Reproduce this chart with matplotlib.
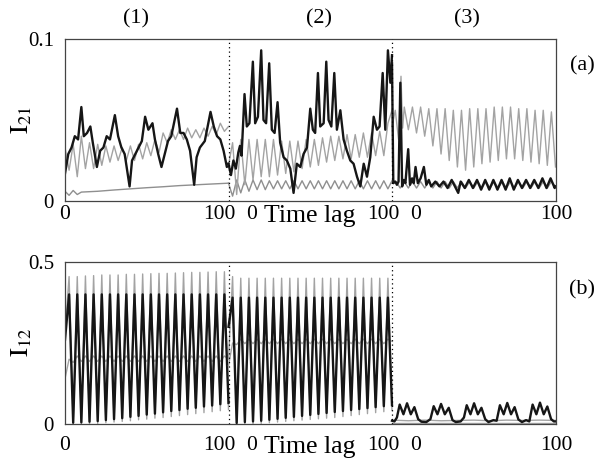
import numpy as np
import matplotlib
matplotlib.use("Agg")
import matplotlib.pyplot as plt
from matplotlib.transforms import blended_transform_factory

plt.rcParams['font.family'] = ['Liberation Serif', 'DejaVu Serif']
plt.rcParams['mathtext.fontset'] = 'stix'

# common lag grid (step 2.5) used by the periodic series
lag = np.arange(0, 100.01, 2.5)

# ---------- panel (a): I21 ----------
# segment (1)
a1_black_x = [0, 2, 4, 6, 8, 10, 11.5, 13.5, 15.5, 17, 19.5, 21.5, 23.5, 25.5, 27.5, 30.5, 32.5,
              34.5, 36.5, 39.5, 41, 43, 45, 47, 49, 51, 53.5, 55, 57, 59, 61, 63, 65, 68.5, 70.5,
              72.5, 74.5, 76.5, 79, 80.5, 82.5, 85.5, 89, 91, 93, 95, 97, 99, 100]
a1_black_y = [0.017, 0.029, 0.033, 0.040, 0.038, 0.058, 0.040, 0.042, 0.046, 0.036, 0.021, 0.031,
              0.033, 0.040, 0.038, 0.053, 0.040, 0.033, 0.029, 0.009, 0.025, 0.029, 0.033, 0.037,
              0.052, 0.044, 0.048, 0.038, 0.029, 0.021, 0.029, 0.037, 0.040, 0.057, 0.042, 0.042,
              0.038, 0.031, 0.010, 0.027, 0.033, 0.037, 0.055, 0.046, 0.040, 0.038, 0.031, 0.021,
              0.023]
a1_gray_y = [0.033, 0.019, 0.035, 0.015, 0.040, 0.020, 0.036, 0.020, 0.035, 0.022, 0.034, 0.024,
             0.034, 0.025, 0.033, 0.025, 0.034, 0.025, 0.035, 0.026, 0.036, 0.028, 0.038, 0.030,
             0.042, 0.036, 0.044, 0.038, 0.044, 0.038, 0.045, 0.039, 0.044, 0.039, 0.045, 0.040,
             0.046, 0.041, 0.048, 0.043, 0.046]
a1_low_x = [0, 2.5, 5, 7.5, 10, 20, 30, 40, 50, 60, 70, 80, 90, 100]
a1_low_y = [0.006, 0.0035, 0.0065, 0.004, 0.0055, 0.006, 0.0068, 0.0075, 0.0082, 0.0088, 0.0095,
            0.010, 0.0105, 0.011]

# segment (2)
a2_black_x = [0, 1.5, 3, 4.5, 6, 7, 8, 9.8, 11.2, 12.8, 14.9, 16.3, 18, 20, 21.4, 23, 24.9, 26.5,
              28.2, 30, 31.6, 33.7, 35.7, 37.8, 39.8, 41.8, 43.9, 45.9, 48, 50, 51.6, 53, 54.7,
              56.1, 58.2, 59.8, 61.2, 62.9, 64.7, 66.3, 68.4, 70.4, 72.4, 74.5, 76.5, 78.6, 80.6,
              82.7, 84.7, 86.7, 88.8, 90.8, 92.4, 94.3, 95.9, 97.5, 99, 100]
a2_black_y = [0.023, 0.016, 0.025, 0.020, 0.030, 0.034, 0.028, 0.066, 0.046, 0.048, 0.086, 0.048,
              0.052, 0.093, 0.050, 0.048, 0.085, 0.044, 0.042, 0.061, 0.036, 0.027, 0.025, 0.020,
              0.005, 0.023, 0.021, 0.029, 0.033, 0.057, 0.044, 0.042, 0.079, 0.046, 0.048, 0.086,
              0.050, 0.046, 0.079, 0.044, 0.056, 0.038, 0.031, 0.025, 0.023, 0.015, 0.009, 0.023,
              0.015, 0.027, 0.052, 0.044, 0.046, 0.079, 0.044, 0.093, 0.073, 0.090]
a2_gray_y = [0.022, 0.036, 0.004, 0.038, 0.010, 0.038, 0.013, 0.038, 0.015, 0.038, 0.015, 0.038,
             0.016, 0.037, 0.017, 0.037, 0.018, 0.037, 0.020, 0.038, 0.021, 0.038, 0.022, 0.039,
             0.024, 0.040, 0.025, 0.040, 0.026, 0.041, 0.026, 0.041, 0.027, 0.042, 0.027, 0.042,
             0.028, 0.043, 0.028, 0.048, 0.056]
a2_low_y = [0.011, 0.003, 0.013, 0.005, 0.013, 0.006, 0.013, 0.007, 0.013, 0.007, 0.0125, 0.0075,
            0.0125, 0.0075, 0.0125, 0.0075, 0.0125, 0.0075, 0.0125, 0.0075, 0.0125, 0.0075,
            0.0125, 0.0075, 0.0125, 0.0075, 0.0125, 0.0075, 0.0125, 0.0075, 0.0125, 0.0075,
            0.0125, 0.0075, 0.0125, 0.0075, 0.0125, 0.0075, 0.0125, 0.0075, 0.0125]

# segment (3)
a3_black_x = [0, 0.8, 2, 3, 4, 5.1, 6.2, 7.2, 8.2, 9.9, 11, 12.3, 13.3, 14.4, 15.8, 17.5, 19.5, 21,
              22.5, 24, 26.5, 29, 31.5, 34, 36.5, 39, 40.5, 42, 44.5, 47, 49.5, 52, 54.5, 57, 59.5,
              62, 64.5, 67, 69.5, 72, 74.5, 77, 79.5, 82, 84.5, 87, 89.5, 92, 94.5, 97, 99.5, 100]
a3_black_y = [0.085, 0.011, 0.012, 0.010, 0.012, 0.073, 0.009, 0.013, 0.011, 0.032, 0.010, 0.014,
              0.011, 0.021, 0.011, 0.014, 0.021, 0.010, 0.013, 0.009, 0.012, 0.009, 0.012, 0.008,
              0.013, 0.008, 0.005, 0.012, 0.008, 0.013, 0.008, 0.013, 0.007, 0.013, 0.007, 0.013,
              0.007, 0.013, 0.007, 0.014, 0.007, 0.013, 0.008, 0.013, 0.008, 0.013, 0.008, 0.014,
              0.008, 0.014, 0.008, 0.009]
a3_gray_x = [0, 2, 4, 5.5, 6.5] + list(np.arange(7.5, 100.01, 2.5))
a3_gray_y = [0.046, 0.056, 0.038, 0.077, 0.045, 0.058, 0.044, 0.058, 0.042, 0.058, 0.040, 0.057,
             0.034, 0.057, 0.029, 0.057, 0.025, 0.056, 0.021, 0.056, 0.019, 0.057, 0.021, 0.057,
             0.023, 0.057, 0.024, 0.058, 0.025, 0.058, 0.026, 0.058, 0.026, 0.057, 0.025, 0.057,
             0.024, 0.056, 0.023, 0.056, 0.022, 0.055, 0.021]
a3_low_y = [0.011, 0.012, 0.008, 0.012, 0.008, 0.012, 0.008, 0.012, 0.008, 0.012, 0.008, 0.012,
            0.008, 0.012, 0.008, 0.012, 0.008, 0.012, 0.008, 0.012, 0.008, 0.012, 0.008, 0.012,
            0.008, 0.012, 0.008, 0.012, 0.008, 0.012, 0.008, 0.012, 0.008, 0.012, 0.008, 0.012,
            0.008, 0.012, 0.008, 0.012, 0.009]

# ---------- panel (b): I12 ----------
# segment (1)
b1_black_y = [0.26, 0.40, 0.004, 0.40, 0.005, 0.40, 0.007, 0.40, 0.009, 0.40, 0.012, 0.40, 0.015,
              0.40, 0.018, 0.40, 0.022, 0.40, 0.025, 0.40, 0.029, 0.40, 0.032, 0.40, 0.036, 0.40,
              0.040, 0.40, 0.043, 0.40, 0.047, 0.40, 0.050, 0.40, 0.054, 0.40, 0.057, 0.40, 0.061,
              0.40, 0.065]
b1_outer_y = [0.28, 0.455, 0.0, 0.455, 0.0, 0.457, 0.001, 0.458, 0.002, 0.46, 0.004, 0.46, 0.006,
              0.46, 0.008, 0.462, 0.010, 0.462, 0.013, 0.463, 0.015, 0.464, 0.018, 0.465, 0.020,
              0.465, 0.023, 0.466, 0.026, 0.467, 0.029, 0.468, 0.032, 0.468, 0.035, 0.469, 0.038,
              0.47, 0.041, 0.47, 0.045]
b1_mid_y = [0.14, 0.20, 0.19, 0.21, 0.193, 0.21, 0.193, 0.21, 0.193, 0.21, 0.193, 0.21, 0.193, 0.21,
            0.193, 0.21, 0.193, 0.21, 0.193, 0.21, 0.193, 0.21, 0.193, 0.21, 0.193, 0.21, 0.193,
            0.21, 0.193, 0.21, 0.193, 0.21, 0.193, 0.21, 0.193, 0.21, 0.193, 0.21, 0.193, 0.21,
            0.20]

# segment (2)
b2_black_y = [0.30, 0.39, 0.003, 0.39, 0.006, 0.39, 0.008, 0.39, 0.010, 0.39, 0.013, 0.39, 0.016,
              0.39, 0.019, 0.39, 0.022, 0.39, 0.025, 0.39, 0.028, 0.39, 0.031, 0.39, 0.034, 0.39,
              0.037, 0.39, 0.040, 0.39, 0.043, 0.39, 0.046, 0.39, 0.049, 0.39, 0.052, 0.39, 0.055,
              0.39, 0.058]
b2_outer_y = [0.20, 0.455, 0.0, 0.45, 0.0, 0.45, 0.001, 0.45, 0.002, 0.45, 0.004, 0.45, 0.006,
              0.45, 0.008, 0.45, 0.010, 0.45, 0.012, 0.45, 0.014, 0.45, 0.016, 0.45, 0.018, 0.45,
              0.020, 0.45, 0.023, 0.45, 0.026, 0.45, 0.029, 0.45, 0.032, 0.45, 0.035, 0.45, 0.038,
              0.45, 0.042]
b2_mid_y = [0.18, 0.25, 0.245, 0.262, 0.248, 0.262, 0.248, 0.262, 0.248, 0.262, 0.248, 0.262,
            0.248, 0.262, 0.248, 0.262, 0.248, 0.262, 0.248, 0.262, 0.248, 0.262, 0.248, 0.262,
            0.248, 0.262, 0.248, 0.262, 0.248, 0.262, 0.248, 0.262, 0.248, 0.262, 0.248, 0.262,
            0.248, 0.262, 0.248, 0.262, 0.255]

# segment (3)
b3_black_x = [0, 1.5, 3, 4.7, 7, 9.2, 11.5, 13.7, 16, 18, 21, 23.5, 25.5, 27.8, 30, 32.3, 34.7, 37,
              39, 42, 44, 45.7, 48, 50.2, 52.5, 54.7, 57, 59, 62, 64, 66, 68.3, 70.5, 72.8, 75,
              77.3, 79.5, 82, 84, 86, 88.3, 90.5, 92.8, 95, 97.3, 99, 100]
b3_black_y = [0.010, 0.008, 0.020, 0.060, 0.030, 0.064, 0.030, 0.052, 0.015, 0.007, 0.006, 0.015,
              0.055, 0.030, 0.062, 0.030, 0.050, 0.012, 0.006, 0.008, 0.020, 0.058, 0.030, 0.064,
              0.030, 0.050, 0.015, 0.006, 0.012, 0.010, 0.058, 0.030, 0.065, 0.030, 0.052, 0.014,
              0.006, 0.012, 0.008, 0.060, 0.030, 0.066, 0.030, 0.054, 0.015, 0.008, 0.008]
b3_mid_x = [0, 10, 20, 30, 40, 50, 60, 70, 80, 90, 100]
b3_mid_y = [0.012, 0.010, 0.012, 0.010, 0.011, 0.012, 0.010, 0.012, 0.011, 0.012, 0.011]
b3_outer_x = [0, 25, 50, 75, 100]
b3_outer_y = [0.003, 0.003, 0.003, 0.003, 0.003]

seg_labels = ["(1)", "(2)", "(3)"]
BLACK = "#161616"
GRAY = "#a3a3a3"
LOWGRAY = "#8f8f8f"


def seg(k, x):
    # shift a segment onto the shared 0..300 axis
    return np.asarray(x, dtype=float) + 100 * k


def style_axes(ax, ytop, ytop_label, label_offset):
    ax.set_xlim(0, 300)
    ax.set_ylim(0, ytop)
    ax.set_xticks([])
    ax.set_yticks([0, ytop])
    ax.set_yticklabels(["0", ytop_label], fontsize=15)
    ax.tick_params(axis="y", length=0, pad=8)
    for sp in ax.spines.values():
        sp.set_color("#444444")
        sp.set_linewidth(0.9)
    for xs in (100, 200):
        ax.axvline(xs, color="black", lw=0.9, linestyle=(0, (1, 2.5)), zorder=5)
    tr = blended_transform_factory(ax.transData, ax.transAxes)
    for xpos, txt in [(0, "0"), (94.2, "100"), (114.4, "0"), (194.5, "100"), (214.4, "0"),
                      (300.5, "100")]:
        ax.text(xpos, label_offset, txt, transform=tr, ha="center", va="center", fontsize=15.5)
    ax.text(149.8, label_offset - 0.01, "Time lag", transform=tr, ha="center", va="center",
            fontsize=18.5)


fig = plt.figure(figsize=(6.02, 4.61), dpi=100)
ax_a = fig.add_axes([65 / 602, 1 - 201 / 461, 490.5 / 602, 162 / 461])
ax_b = fig.add_axes([65 / 602, 1 - 424 / 461, 490.5 / 602, 162 / 461])

# panel (a)
ax_a.plot(seg(0, a1_low_x), a1_low_y, color=LOWGRAY, lw=1.0)
ax_a.plot(seg(0, lag), a1_gray_y, color=GRAY, lw=1.0)
ax_a.plot(seg(0, a1_black_x), a1_black_y, color=BLACK, lw=1.7)
ax_a.plot(seg(1, lag), a2_low_y, color=LOWGRAY, lw=1.0)
ax_a.plot(seg(1, lag), a2_gray_y, color=GRAY, lw=1.0)
ax_a.plot(seg(1, a2_black_x), a2_black_y, color=BLACK, lw=1.7)
ax_a.plot(seg(2, lag), a3_low_y, color=LOWGRAY, lw=1.0)
ax_a.plot(seg(2, a3_gray_x), a3_gray_y, color=GRAY, lw=1.0)
ax_a.plot(seg(2, a3_black_x), a3_black_y, color=BLACK, lw=1.7)
style_axes(ax_a, 0.1, "0.1", -0.085)

# panel (b)
ax_b.plot(seg(0, lag), b1_outer_y, color=GRAY, lw=1.0)
ax_b.plot(seg(0, lag), b1_mid_y, color=GRAY, lw=1.0)
ax_b.plot(seg(0, lag), b1_black_y, color=BLACK, lw=1.7)
ax_b.plot(seg(1, lag), b2_outer_y, color=GRAY, lw=1.0)
ax_b.plot(seg(1, lag), b2_mid_y, color=GRAY, lw=1.0)
ax_b.plot(seg(1, lag), b2_black_y, color=BLACK, lw=1.7)
ax_b.plot(seg(2, b3_outer_x), b3_outer_y, color=GRAY, lw=1.0)
ax_b.plot(seg(2, b3_mid_x), b3_mid_y, color=GRAY, lw=1.0)
ax_b.plot(seg(2, b3_black_x), b3_black_y, color=BLACK, lw=1.7)
style_axes(ax_b, 0.5, "0.5", -0.13)

# segment titles and panel tags
for xpx, txt in zip([136, 319, 467], seg_labels):
    fig.text(xpx / 602, 1 - 19 / 461, txt, ha="center", va="center", fontsize=16)
fig.text(582 / 602, 1 - 66 / 461, "(a)", ha="center", va="center", fontsize=16)
fig.text(582 / 602, 1 - 290 / 461, "(b)", ha="center", va="center", fontsize=16)
fig.text(22 / 602, 1 - 120 / 461, r"$\mathrm{I}_{21}$", rotation=90, ha="center", va="center", fontsize=19)
fig.text(22 / 602, 1 - 342 / 461, r"$\mathrm{I}_{12}$", rotation=90, ha="center", va="center", fontsize=19)

fig.savefig("out.png", dpi=100)
